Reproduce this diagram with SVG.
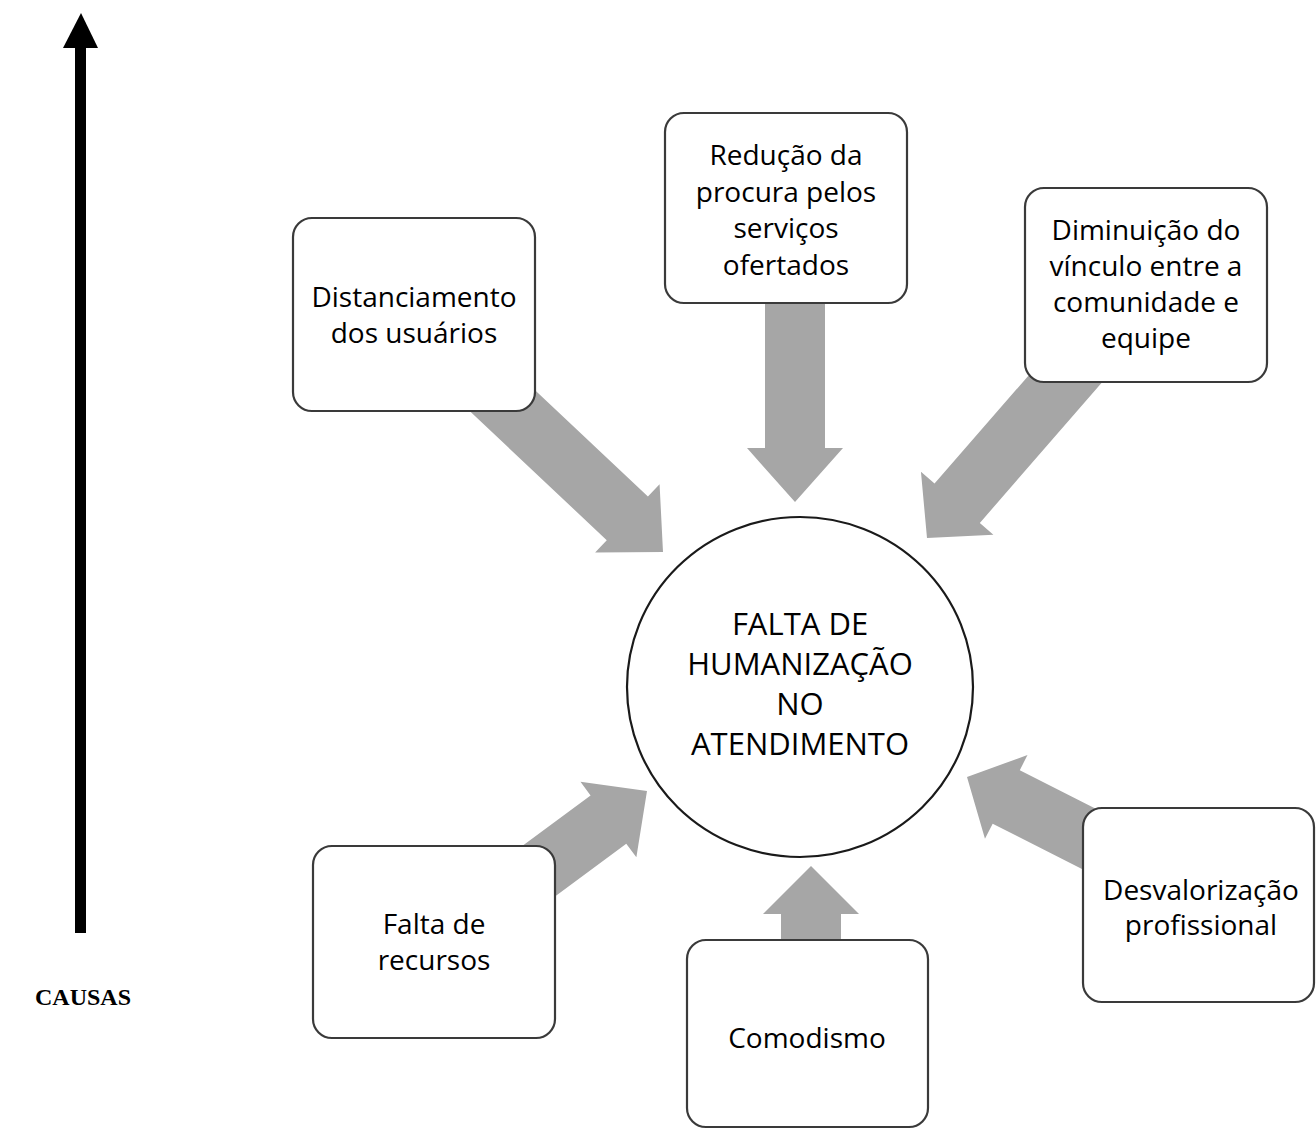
<svg xmlns="http://www.w3.org/2000/svg" width="1316" height="1129" viewBox="0 0 1316 1129">
<style>
.box{fill:#fff;stroke:#3a3a3a;stroke-width:2.2}
.arr{fill:#a6a6a6}
.t{font-family:"Open Sans","Noto Sans","DejaVu Sans",sans-serif;font-size:28px;text-anchor:middle;fill:#000}
.c{font-family:"Open Sans","Noto Sans","DejaVu Sans",sans-serif;font-size:31px;text-anchor:middle;fill:#000}
.cap{font-family:"Liberation Serif","Times New Roman",serif;font-size:24px;font-weight:bold;fill:#000}
</style>
<rect width="1316" height="1129" fill="#fff"/>
<g id="axis">
<rect x="75" y="46" width="11" height="887" fill="#000"/>
<polygon points="81,13 98,48 63,48" fill="#000"/>
<text class="cap" x="131" y="1005" text-anchor="end">CAUSAS</text>
</g>
<g id="connectors">
<polygon class="arr" transform="translate(663,552) rotate(43.3)" points="-260,-30 -49,-30 -49,-47 0,0 -49,47 -49,30 -260,30"/>
<polygon class="arr" transform="translate(795,502) rotate(90)" points="-220,-30 -54,-30 -54,-48 0,0 -54,48 -54,30 -220,30"/>
<polygon class="arr" transform="translate(927,538) rotate(131)" points="-250,-30 -46,-30 -46,-48 0,0 -46,48 -46,30 -250,30"/>
<polygon class="arr" transform="translate(647,791) rotate(-36.5)" points="-200,-30 -48,-30 -48,-47 0,0 -48,47 -48,30 -200,30"/>
<polygon class="arr" transform="translate(811,866) rotate(-90)" points="-110,-30 -48,-30 -48,-48 0,0 -48,48 -48,30 -110,30"/>
<polygon class="arr" transform="translate(967,777) rotate(206.9)" points="-180,-30 -44,-30 -44,-47 0,0 -44,47 -44,30 -180,30"/>
</g>
<g id="center">
<ellipse cx="800" cy="687" rx="173" ry="170" fill="#fff" stroke="#1a1a1a" stroke-width="2.2"/>
<text class="c" x="800" y="635">FALTA DE</text>
<text class="c" x="800" y="675">HUMANIZAÇÃO</text>
<text class="c" x="800" y="715">NO</text>
<text class="c" x="800" y="755">ATENDIMENTO</text>
</g>
<g id="n1">
<rect class="box" x="293" y="218" width="242" height="193" rx="19"/>
<text class="t" x="414" y="307">Distanciamento</text>
<text class="t" x="414" y="343">dos usuários</text>
</g>
<g id="n2">
<rect class="box" x="665" y="113" width="242" height="190" rx="19"/>
<text class="t" x="786" y="165">Redução da</text>
<text class="t" x="786" y="202">procura pelos</text>
<text class="t" x="786" y="238">serviços</text>
<text class="t" x="786" y="275">ofertados</text>
</g>
<g id="n3">
<rect class="box" x="1025" y="188" width="242" height="194" rx="19"/>
<text class="t" x="1146" y="240">Diminuição do</text>
<text class="t" x="1146" y="276">vínculo entre a</text>
<text class="t" x="1146" y="312">comunidade e</text>
<text class="t" x="1146" y="348">equipe</text>
</g>
<g id="n4">
<rect class="box" x="313" y="846" width="242" height="192" rx="19"/>
<text class="t" x="434" y="934">Falta de</text>
<text class="t" x="434" y="970">recursos</text>
</g>
<g id="n5">
<rect class="box" x="687" y="940" width="241" height="187" rx="19"/>
<text class="t" x="807" y="1048">Comodismo</text>
</g>
<g id="n6">
<rect class="box" x="1083" y="808" width="231" height="194" rx="19"/>
<text class="t" x="1201" y="900">Desvalorização</text>
<text class="t" x="1201" y="935">profissional</text>
</g>
</svg>
